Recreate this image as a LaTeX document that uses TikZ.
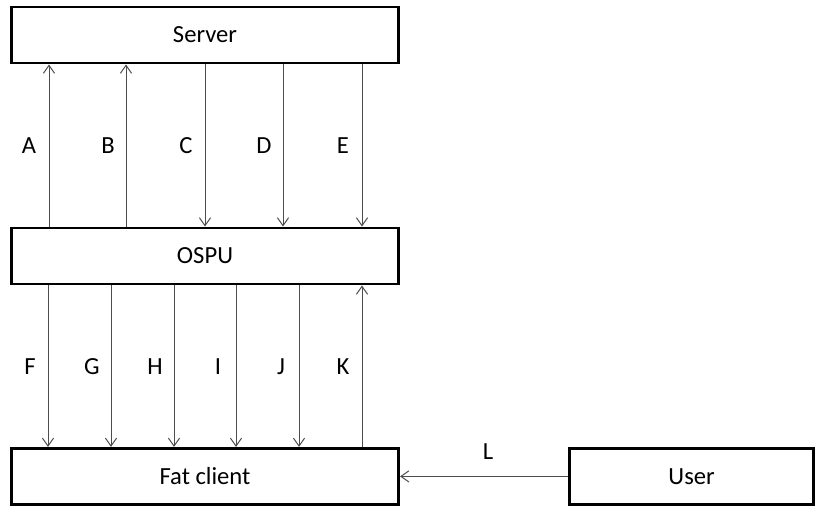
\documentclass[tikz,border=0pt]{standalone}
\usepackage{fontspec}
\setmainfont{Carlito}
\usetikzlibrary{arrows.meta}

\tikzset{
  unit/.style={draw, line width=2.1pt, inner sep=0pt, minimum height=1.4cm,
    font=\fontsize{17.5}{20}\selectfont},
  flow/.style={line width=0.7pt, draw=black!70,
    -{Straight Barb[length=2mm,width=2.8mm,line width=0.7pt]}},
  tag/.style={font=\fontsize{17.5}{20}\selectfont}
}

\begin{document}
\begin{tikzpicture}
\useasboundingbox (0,0) rectangle (20.5,12.7);

\node[unit, minimum width=9.68cm] (server) at (5.125,11.825) {Server};
\node[unit, minimum width=9.68cm] (ospu) at (5.125,6.3) {OSPU};
\node[unit, minimum width=9.68cm] (fat) at (5.125,0.79) {Fat client};
\node[unit, minimum width=6.1cm] (user) at (17.29,0.79) {User};

% server <-> ospu
\coordinate (xa) at (1.225,0); \coordinate (xb) at (3.15,0);
\coordinate (xc) at (5.125,0); \coordinate (xd) at (7.075,0);
\coordinate (xe) at (9.05,0);
\draw[flow] (ospu.north -| xa) -- (server.south -| xa);
\draw[flow] (ospu.north -| xb) -- (server.south -| xb);
\draw[flow] (server.south -| xc) -- (ospu.north -| xc);
\draw[flow] (server.south -| xd) -- (ospu.north -| xd);
\draw[flow] (server.south -| xe) -- (ospu.north -| xe);
\node[tag] (la) at (0.725,9.05) {A};
\node[tag] (lb) at (2.7,9.05) {B};
\node[tag] (lc) at (4.65,9.05) {C};
\node[tag] (ld) at (6.6,9.05) {D};
\node[tag] (le) at (8.575,9.05) {E};

% ospu <-> fat client
\coordinate (xf) at (1.2,0); \coordinate (xg) at (2.775,0);
\coordinate (xh) at (4.35,0); \coordinate (xi) at (5.9,0);
\coordinate (xj) at (7.475,0); \coordinate (xk) at (9.05,0);
\draw[flow] (ospu.south -| xf) -- (fat.north -| xf);
\draw[flow] (ospu.south -| xg) -- (fat.north -| xg);
\draw[flow] (ospu.south -| xh) -- (fat.north -| xh);
\draw[flow] (ospu.south -| xi) -- (fat.north -| xi);
\draw[flow] (ospu.south -| xj) -- (fat.north -| xj);
\draw[flow] (fat.north -| xk) -- (ospu.south -| xk);
\node[tag] (lf) at (0.75,3.525) {F};
\node[tag] (lg) at (2.3,3.525) {G};
\node[tag] (lh) at (3.875,3.525) {H};
\node[tag] (li) at (5.45,3.525) {I};
\node[tag] (lj) at (7.025,3.525) {J};
\node[tag] (lk) at (8.575,3.525) {K};

% user -> fat client
\draw[flow] (user.west) -- (fat.east);
\node[tag] (ll) at (12.2,1.42) {L};

\end{tikzpicture}
\end{document}
